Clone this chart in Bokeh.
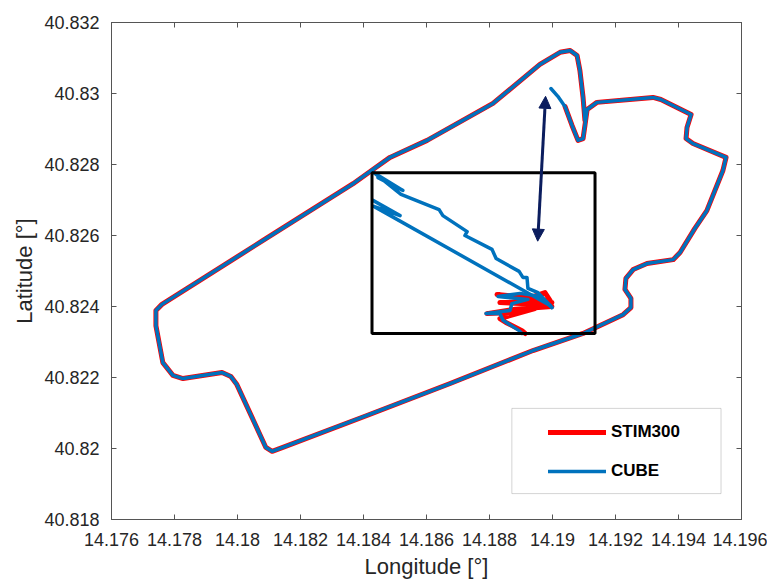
from bokeh.plotting import figure
from bokeh.models import (Range1d, LinearAxis, FixedTicker, CustomJSTickFormatter,
                          Legend, LegendItem, Arrow, NormalHead, BoxAnnotation)
from bokeh.embed import file_html
from bokeh.resources import INLINE

# ---------------- data ----------------
x_ticks = [14.176, 14.178, 14.180, 14.182, 14.184, 14.186, 14.188, 14.190, 14.192, 14.194, 14.196]
y_ticks = [40.818, 40.820, 40.822, 40.824, 40.826, 40.828, 40.830, 40.832]

# closed driving loop (both sensors overlap)
loop_lon = [14.19040, 14.19062, 14.19081, 14.19097, 14.19103, 14.19110, 14.19141, 14.19319, 14.19344,
            14.19440, 14.19427, 14.19424, 14.19446, 14.19551, 14.19541, 14.19490, 14.19452, 14.19405,
            14.19383, 14.19300, 14.19256, 14.19233, 14.19230, 14.19249, 14.19249, 14.19224, 14.19097,
            14.18938, 14.18675, 14.18411, 14.18144, 14.18110, 14.18090, 14.17998, 14.17979, 14.17951,
            14.17827, 14.17795, 14.17763, 14.17741, 14.17741, 14.17760, 14.18081, 14.18367, 14.18430,
            14.18484, 14.18602, 14.18811, 14.18960, 14.19024, 14.19056, 14.19078, 14.19087, 14.19097,
            14.19103]
loop_lat = [40.82963, 40.82910, 40.82868, 40.82873, 40.82910, 40.82955, 40.82975, 40.82989, 40.82983,
            40.82941, 40.82904, 40.82873, 40.82859, 40.82820, 40.82783, 40.82670, 40.82620, 40.82552,
            40.82532, 40.82521, 40.82504, 40.82479, 40.82448, 40.82423, 40.82397, 40.82377, 40.82324,
            40.82276, 40.82183, 40.82093, 40.82003, 40.81992, 40.82003, 40.82180, 40.82203, 40.82214,
            40.82197, 40.82206, 40.82242, 40.82346, 40.82389, 40.82406, 40.82586, 40.82746, 40.82786,
            40.82820, 40.82868, 40.82972, 40.83082, 40.83116, 40.83121, 40.83107, 40.83065, 40.82989,
            40.82924]

# STIM300 initial scribble
stim_init_lon = [14.18998, 14.18824, 14.18929, 14.18976, 14.18992, 14.18833, 14.18960, 14.18998,
                 14.18881, 14.18792, 14.18865, 14.18944, 14.18833, 14.18852, 14.18903, 14.18913]
stim_init_lat = [40.82411, 40.82434, 40.82425, 40.82439, 40.82417, 40.82411, 40.82406, 40.82400,
                 40.82392, 40.82380, 40.82383, 40.82394, 40.82366, 40.82355, 40.82332, 40.82324]

# CUBE extra lead-in at the notch
cube_lead_lon = [14.18995, 14.19017]
cube_lead_lat = [40.83014, 40.82992]

# CUBE initial scribbles
cube_a_lon = [14.18446, 14.18525, 14.18433, 14.18519, 14.18640, 14.18652, 14.18729, 14.18722,
              14.18808, 14.18821, 14.18894, 14.18906, 14.18919, 14.18922, 14.18954, 14.18998]
cube_a_lat = [40.82763, 40.82727, 40.82777, 40.82716, 40.82673, 40.82656, 40.82611, 40.82600,
              40.82561, 40.82535, 40.82499, 40.82482, 40.82482, 40.82451, 40.82439, 40.82397]
cube_b_lon = [14.18430, 14.18516, 14.18433, 14.18992]
cube_b_lat = [40.82699, 40.82656, 40.82682, 40.82403]
cube_c_lon = [14.18998, 14.18963, 14.18897, 14.18827, 14.18922, 14.18871, 14.18865, 14.18789,
              14.18833, 14.18843, 14.18894, 14.18903]
cube_c_lat = [40.82397, 40.82428, 40.82437, 40.82428, 40.82420, 40.82408, 40.82389, 40.82380,
              40.82380, 40.82361, 40.82332, 40.82324]

# highlighted region and arrow
inset_lon = [14.18427, 14.19135]
inset_lat = [40.82324, 40.82777]
arrow_lon = [14.18978, 14.18953]
arrow_lat = [40.82992, 40.82584]

# ---------------- figure ----------------
FONT = "Liberation Sans"
AX = "#555555"
TXT = "#262626"

p = figure(x_range=Range1d(14.176, 14.196), y_range=Range1d(40.818, 40.832),
           output_backend="svg", toolbar_location=None,
           min_border_left=111, min_border_right=26, min_border_top=22, min_border_bottom=62)
p.frame_width = 630
p.frame_height = 497
p.xgrid.visible = False
p.ygrid.visible = False
p.outline_line_color = AX
p.background_fill_color = "white"

fmt = CustomJSTickFormatter(code="return String(parseFloat(tick.toFixed(3)));")
blank = CustomJSTickFormatter(code="return '';")

for ax, ticks in ((p.xaxis[0], x_ticks), (p.yaxis[0], y_ticks)):
    ax.ticker = FixedTicker(ticks=ticks)
    ax.formatter = fmt
    ax.major_tick_in = 5
    ax.major_tick_out = 0
    ax.minor_tick_line_color = None
    ax.axis_line_color = AX
    ax.major_tick_line_color = AX
    ax.major_label_text_font = FONT
    ax.major_label_text_font_size = "18px"
    ax.major_label_text_color = TXT
    ax.axis_label_text_font = FONT
    ax.axis_label_text_font_size = "22px"
    ax.axis_label_text_font_style = "normal"
    ax.axis_label_text_color = TXT

p.xaxis.axis_label = "Longitude [°]"
p.yaxis.axis_label = "Latitude [°]"
p.xaxis.major_label_standoff = 13
p.yaxis.major_label_standoff = 12
p.xaxis.axis_label_standoff = 5
p.yaxis.axis_label_standoff = 4

top_ax = LinearAxis(ticker=FixedTicker(ticks=x_ticks), formatter=blank)
right_ax = LinearAxis(ticker=FixedTicker(ticks=y_ticks), formatter=blank)
for ax in (top_ax, right_ax):
    ax.major_tick_in = 5
    ax.major_tick_out = 0
    ax.minor_tick_line_color = None
    ax.axis_line_color = AX
    ax.major_tick_line_color = AX
    ax.major_label_text_font_size = "0px"
    ax.major_label_standoff = 0
p.add_layout(top_ax, "above")
p.add_layout(right_ax, "right")

# tracks
r_stim = p.multi_line(xs=[loop_lon, stim_init_lon], ys=[loop_lat, stim_init_lat],
                      line_color="#ff0000", line_width=5, line_join="round", line_cap="round")
r_cube = p.multi_line(xs=[cube_lead_lon + loop_lon, cube_a_lon, cube_b_lon, cube_c_lon],
                      ys=[cube_lead_lat + loop_lat, cube_a_lat, cube_b_lat, cube_c_lat],
                      line_color="#0072BD", line_width=3.5, line_join="round", line_cap="round")

# inset rectangle
p.quad(left=[inset_lon[0]], right=[inset_lon[1]], bottom=[inset_lat[0]], top=[inset_lat[1]],
       fill_alpha=0, line_color="black", line_width=3)

# double arrow
NAVY = "#0b1d5e"
p.add_layout(Arrow(start=NormalHead(size=12, fill_color=NAVY, line_color=NAVY),
                   end=NormalHead(size=12, fill_color=NAVY, line_color=NAVY),
                   x_start=arrow_lon[0], y_start=arrow_lat[0],
                   x_end=arrow_lon[1], y_end=arrow_lat[1],
                   line_color=NAVY, line_width=3))

# legend frame + legend
p.add_layout(BoxAnnotation(left=14.18871, right=14.19535, bottom=40.81873, top=40.82113,
                           fill_color="white", fill_alpha=1, line_color="#707070", line_width=1))
legend = Legend(items=[LegendItem(label="STIM300", renderers=[r_stim]),
                       LegendItem(label="CUBE", renderers=[r_cube])],
                location=(437, 38), padding=0, margin=0, spacing=19,
                glyph_width=58, glyph_height=20, label_height=20, label_standoff=5,
                label_text_font=FONT, label_text_font_style="bold", label_text_font_size="17px",
                label_text_color="black", border_line_color=None, background_fill_alpha=0)
p.add_layout(legend)

open("out.html", "w").write(file_html(p, INLINE))
